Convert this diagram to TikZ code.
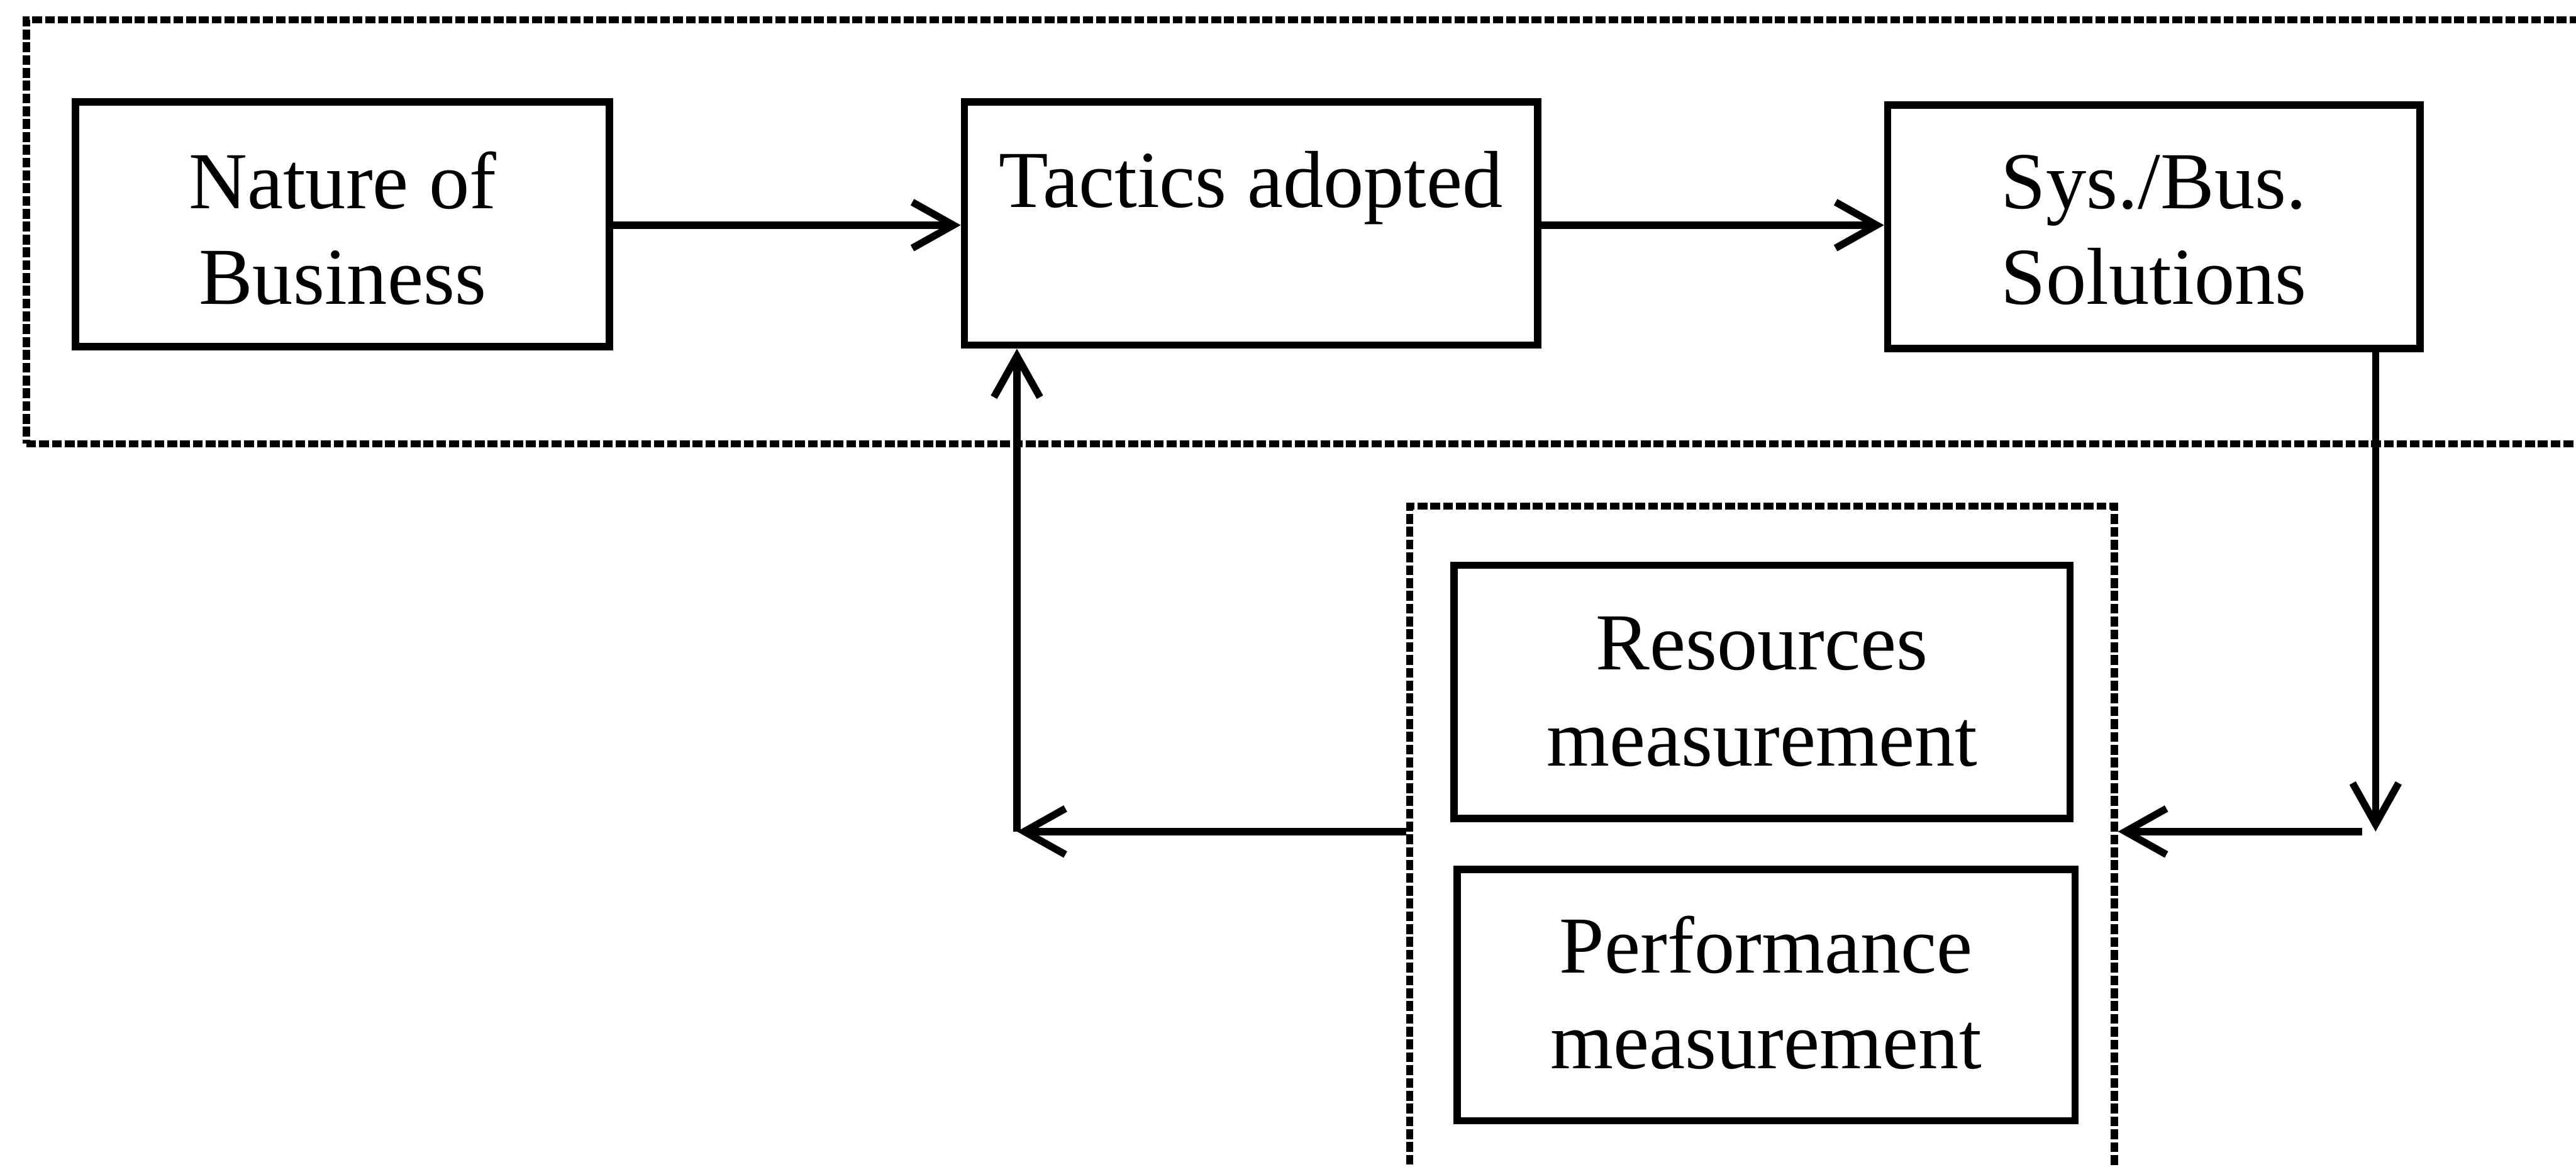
\documentclass[tikz,border=0pt]{standalone}
\usepackage{fontspec}
\setmainfont{Liberation Serif}
\usetikzlibrary{arrows.meta}
\tikzset{
  boxn/.style={draw, line width=1.25pt, rectangle, inner sep=0pt},
  grpbox/.style={draw, line width=1.25pt, rectangle, inner sep=0pt, dash pattern=on 0.6mm off 0.18mm},
  lbl/.style={inner sep=0pt, align=center, font=\fontsize{14pt}{16.6pt}\selectfont},
  arr/.style={line width=1.25pt, -{Straight Barb[length=2.5mm,width=2.8mm]}},
}
\begin{document}
\begin{tikzpicture}[x=0.1mm,y=-0.1mm]
\path[use as bounding box] (0,0) rectangle (1568,710);
\begin{scope}
\clip (0,0) rectangle (1568,710);
% group frames
\node[grpbox, minimum width=158.4mm, minimum height=25.8mm] (topgrp) at (808,141) {};
\node[grpbox, minimum width=42.9mm, minimum height=43.2mm] (grp) at (1072.5,524) {};
% boxes
\node[boxn, minimum width=32.5mm, minimum height=14.9mm] (nat) at (208.5,136.5) {};
\node[boxn, minimum width=34.9mm, minimum height=14.8mm] (tac) at (761.5,136) {};
\node[boxn, minimum width=32.4mm, minimum height=14.8mm] (sys) at (1311,138) {};
\node[boxn, minimum width=37.5mm, minimum height=15.4mm] (res) at (1072.5,421) {};
\node[boxn, minimum width=37.6mm, minimum height=15.3mm] (perf) at (1075,605.5) {};
% labels
\node[lbl] (natl) at (208.5,139) {Nature of\\Business};
\node[lbl, anchor=base] (tacl) at (761.5,126) {Tactics adopted};
\node[lbl] (sysl) at (1311,140) {Sys./Bus.\\Solutions};
\node[lbl] (resl) at (1072.5,421) {Resources\\measurement};
\node[lbl] (perfl) at (1075,604) {Performance\\measurement};
% connectors
\coordinate (c1) at (1446,506);
\coordinate (c2) at (619,506);
\coordinate (c3) at (1438,506);
\draw[arr] (nat.east |- 0,137) -- (tac.west |- 0,137);
\draw[arr] (tac.east |- 0,137) -- (sys.west |- 0,137);
\draw[arr] (sys.south -| c1) -- (c1);
\draw[arr] (c3) -- (grp.east |- c3);
\draw[arr] (grp.west |- c2) -- (c2);
\draw[arr] (c2) -- (tac.south -| c2);
\end{scope}
\end{tikzpicture}
\end{document}
